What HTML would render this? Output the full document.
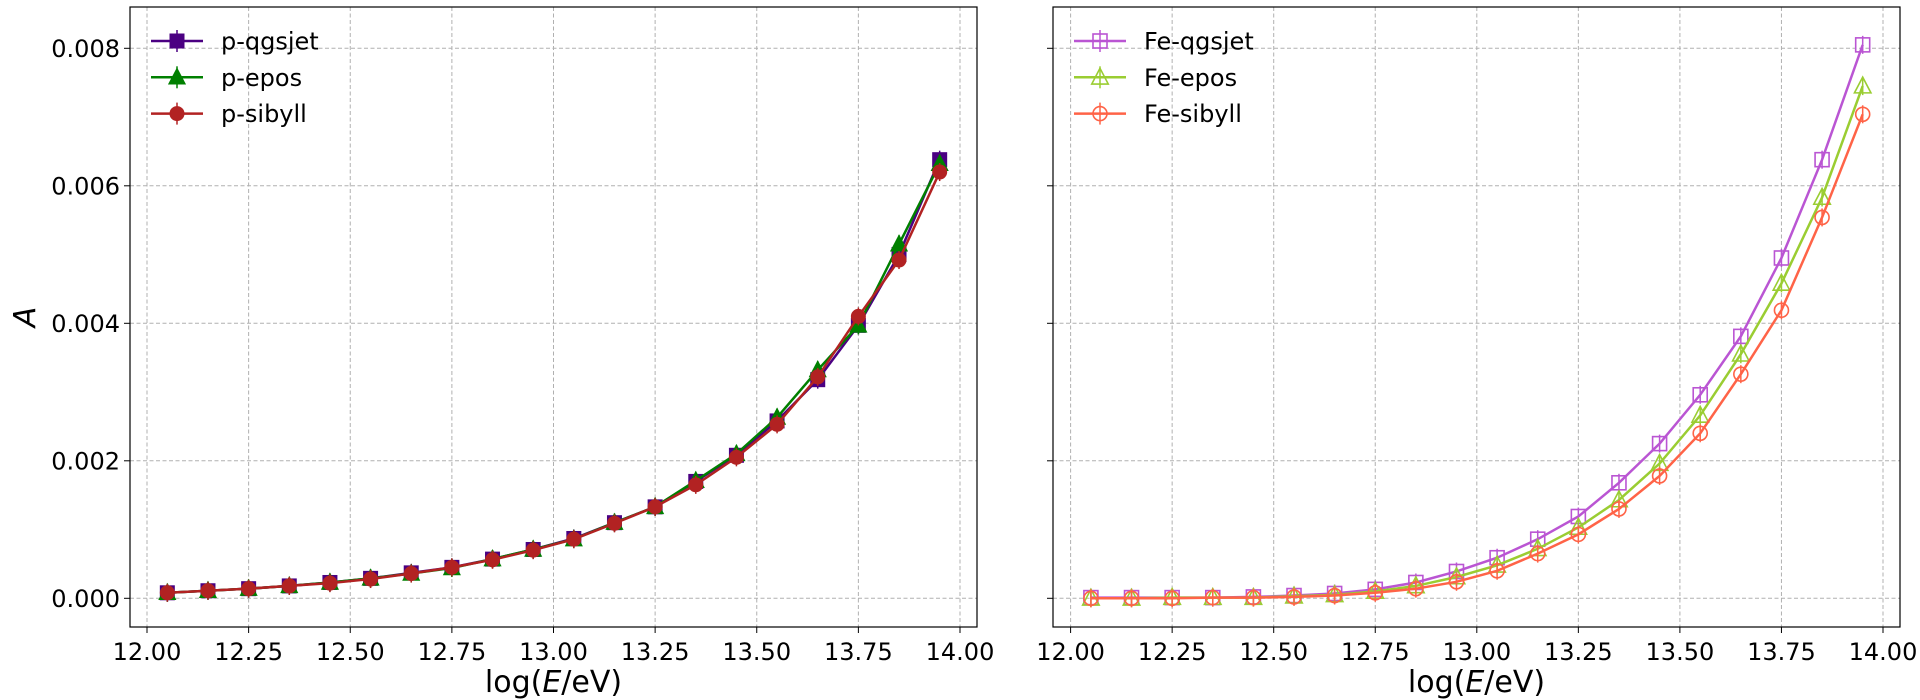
<!DOCTYPE html>
<html><head><meta charset="utf-8"><style>
body{margin:0;background:#fff;}
svg{display:block;font-family:"DejaVu Sans","Liberation Sans",sans-serif;}
</style></head><body>
<svg id="chart" width="1920" height="700" viewBox="0 0 1920 700"></svg>
<script>
const xVals=[12.05,12.15,12.25,12.35,12.45,12.55,12.65,12.75,12.85,12.95,13.05,13.15,13.25,13.35,13.45,13.55,13.65,13.75,13.85,13.95];
const pQgsjet=[0.00008,0.00011,0.00014,0.00018,0.00023,0.00029,0.00037,0.00045,0.00057,0.00071,0.00087,0.00110,0.00133,0.00170,0.00208,0.00258,0.00318,0.00397,0.00500,0.00638];
const pEpos=[0.00008,0.00011,0.00014,0.00018,0.00023,0.00029,0.00036,0.00044,0.00057,0.00071,0.00086,0.00110,0.00133,0.00171,0.00210,0.00263,0.00332,0.00397,0.00515,0.00632];
const pSibyll=[0.00008,0.00011,0.00014,0.00018,0.00022,0.00028,0.00036,0.00045,0.00056,0.00070,0.00086,0.00109,0.00133,0.00165,0.00205,0.00253,0.00322,0.00410,0.00492,0.00620];
const feQgsjet=[0.00001,0.00001,0.00001,0.00001,0.00002,0.00004,0.00007,0.00013,0.00023,0.00039,0.00059,0.00086,0.00119,0.00168,0.00225,0.00296,0.00381,0.00495,0.00638,0.00805];
const feEpos=[0.0,0.0,0.00001,0.00001,0.00001,0.00003,0.00005,0.00010,0.00018,0.00031,0.00048,0.00072,0.00103,0.00143,0.00196,0.00266,0.00355,0.00458,0.00583,0.00745];
const feSibyll=[0.0,0.0,0.0,0.00001,0.00001,0.00002,0.00004,0.00008,0.00014,0.00024,0.00040,0.00065,0.00093,0.00130,0.00178,0.00240,0.00326,0.00419,0.00554,0.00704];
const xTicks=[12.00,12.25,12.50,12.75,13.00,13.25,13.50,13.75,14.00];
const yTicks=[0,0.002,0.004,0.006,0.008];

const NS="http://www.w3.org/2000/svg";
const svg=document.getElementById('chart');
function mk(tag,attrs,parent){const e=document.createElementNS(NS,tag);for(const k in attrs)e.setAttribute(k,attrs[k]);(parent||svg).appendChild(e);return e;}

const panels=[
 {left:130,right:977,x0:147,x1:960,series:[
  {name:'p-qgsjet',data:pQgsjet,color:'#4b0082',marker:'square',open:false},
  {name:'p-epos',data:pEpos,color:'#008000',marker:'triangle',open:false},
  {name:'p-sibyll',data:pSibyll,color:'#b22222',marker:'circle',open:false}],yLabels:true,id:'proton'},
 {left:1053,right:1900,x0:1070.6,x1:1883,series:[
  {name:'Fe-qgsjet',data:feQgsjet,color:'#ba55d3',marker:'square',open:true},
  {name:'Fe-epos',data:feEpos,color:'#9acd32',marker:'triangle',open:true},
  {name:'Fe-sibyll',data:feSibyll,color:'#ff6347',marker:'circle',open:true}],yLabels:false,id:'iron'}
];
const plotTop=7,plotBottom=627;
const yS=v=>598.3-(v/0.008)*550;

function marker(g,type,cx,cy,color,open,s){
  const fill=open?'none':color;
  let m;
  if(type==='square')m=mk('rect',{x:cx-s/2,y:cy-s/2,width:s,height:s,fill:fill,stroke:color,'stroke-width':open?1.6:1},g);
  else if(type==='triangle')m=mk('polygon',{points:`${cx},${cy-s*0.6} ${cx-s*0.55},${cy+s*0.45} ${cx+s*0.55},${cy+s*0.45}`,fill:fill,stroke:color,'stroke-width':open?1.6:1},g);
  else m=mk('circle',{cx:cx,cy:cy,r:s/2,fill:fill,stroke:color,'stroke-width':open?1.6:1},g);
  return m;
}

panels.forEach(p=>{
  const xS=v=>p.x0+(v-12)/2*(p.x1-p.x0);
  const g=mk('g',{});
  
  
  xTicks.forEach(t=>{
    const l=mk('line',{x1:xS(t),x2:xS(t),y1:plotTop,y2:plotBottom,stroke:'#b0b0b0','stroke-width':1,'stroke-dasharray':'4,2.5'},g);
    
    
    mk('line',{x1:xS(t),x2:xS(t),y1:plotBottom,y2:plotBottom+6,stroke:'#000','stroke-width':1},g);
    const tx=mk('text',{x:xS(t),y:plotBottom+33,'text-anchor':'middle','font-size':24,fill:'#000'},g);
    tx.textContent=t.toFixed(2);
    
    
  });
  yTicks.forEach(t=>{
    const l=mk('line',{x1:p.left,x2:p.right,y1:yS(t),y2:yS(t),stroke:'#b0b0b0','stroke-width':1,'stroke-dasharray':'4,2.5'},g);
    
    
    mk('line',{x1:p.left-6,x2:p.left,y1:yS(t),y2:yS(t),stroke:'#000','stroke-width':1},g);
    if(p.yLabels){
      const tx=mk('text',{x:p.left-10,y:yS(t)+8.5,'text-anchor':'end','font-size':24,fill:'#000'},g);
      tx.textContent=t.toFixed(3);
      
      
    }
  });
  p.series.forEach(s=>{
    const sg=mk('g',{},g);
    
    
    const pts=s.data.map((v,i)=>xS(xVals[i])+','+yS(v)).join(' ');
    mk('polyline',{points:pts,fill:'none',stroke:s.color,'stroke-width':2.5},sg);
    s.data.forEach((v,i)=>{
      const cx=xS(xVals[i]),cy=yS(v);
      mk('line',{x1:cx,x2:cx,y1:cy-9,y2:cy+9,stroke:s.color,'stroke-width':1.5},sg);
      const m=marker(sg,s.marker,cx,cy,s.color,s.open,s.marker==='triangle'?15:14);
      
      
    });
  });
  const fr=mk('rect',{x:p.left,y:plotTop,width:p.right-p.left,height:plotBottom-plotTop,fill:'none',stroke:'#000','stroke-width':1.2},g);
  
  
  const xt=mk('text',{x:(p.left+p.right)/2,y:692,'text-anchor':'middle','font-size':30,fill:'#000'},g);
  xt.innerHTML='log(<tspan font-style="italic">E</tspan>/eV)';
  
  
  const lg=mk('g',{},g);
  
  
  p.series.forEach((s,i)=>{
    const y=41+i*36.3, lx=p.left+21;
    const e=mk('g',{},lg);
    
    
    mk('line',{x1:lx,x2:lx+52,y1:y,y2:y,stroke:s.color,'stroke-width':2.5},e);
    mk('line',{x1:lx+26,x2:lx+26,y1:y-11,y2:y+11,stroke:s.color,'stroke-width':1.5},e);
    marker(e,s.marker,lx+26,y,s.color,s.open,s.marker==='triangle'?15:14);
    const t=mk('text',{x:lx+70,y:y+8.5,'font-size':24,fill:'#000'},e);
    t.textContent=s.name;
  });
});
const ya=mk('text',{x:0,y:0,'text-anchor':'middle','font-size':30,'font-style':'italic',fill:'#000',transform:'translate(35,317) rotate(-90)'});
ya.textContent='A';


</script>
</body></html>
